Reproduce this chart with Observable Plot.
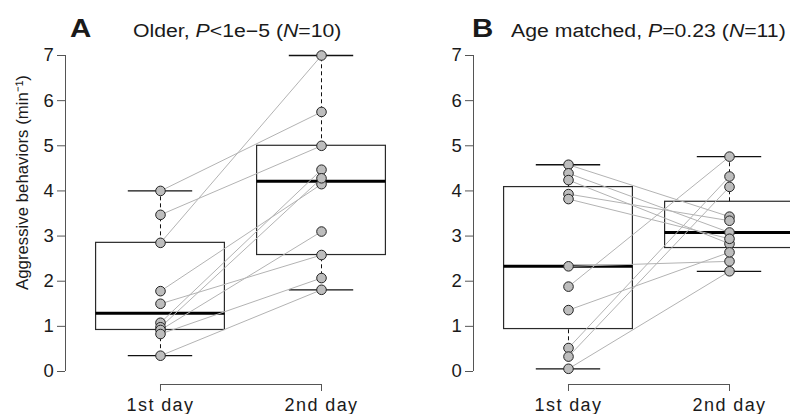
<!DOCTYPE html>
<html><head><meta charset="utf-8">
<script src="https://cdn.jsdelivr.net/npm/d3@7"></script>
<script src="https://cdn.jsdelivr.net/npm/@observablehq/plot@0.6"></script>
<style>
body{margin:0;background:#fff;width:790px;height:414px;overflow:hidden;position:relative;font-family:"Liberation Sans",Arial,sans-serif;color:#1a1a1a;}
.panel{position:absolute;top:0;width:416px;height:414px;}
.title{position:absolute;white-space:nowrap;line-height:1;transform-origin:0 0;transform:scaleX(1.18);}
.letter{font-weight:bold;font-size:25px;top:16px;}
.sub{font-size:18px;top:22px;}
.plotbox{position:absolute;left:0;top:45px;width:416px;}
g[aria-label="x-axis tick label"] text{letter-spacing:1.4px;}
g[aria-label="y-axis tick label"] text{letter-spacing:0.6px;}
</style></head><body>
<div id="A" class="panel" style="left:0">
  <div class="title letter" style="left:70px">A</div>
  <div class="title sub" style="left:133px">Older, <i>P</i>&lt;1e−5 (<i>N</i>=10)</div>
  <div class="plotbox"></div>
</div>
<div id="B" class="panel" style="left:408px">
  <div class="title letter" style="left:64px">B</div>
  <div class="title sub" style="left:103px">Age matched, <i>P</i>=0.23 (<i>N</i>=11)</div>
  <div class="plotbox"></div>
</div>
<script>
// ---- data (aggressive behaviors per minute), paired by index ----
const days = ["1st day", "2nd day"];
const yTicks = [0, 1, 2, 3, 4, 5, 6, 7];
const yLabel = "Aggressive behaviors (min⁻¹)";
const olderDay1 = [4.00, 3.47, 2.85, 1.78, 1.50, 1.08, 0.98, 0.92, 0.83, 0.35];
const olderDay2 = [5.75, 5.00, 7.00, 4.15, 2.58, 4.47, 4.28, 3.10, 2.07, 1.81];
const matchedDay1 = [4.58, 4.39, 4.24, 3.93, 3.82, 2.33, 1.88, 1.36, 0.52, 0.33, 0.06];
const matchedDay2 = [3.43, 3.08, 2.83, 3.34, 2.94, 2.44, 4.76, 2.64, 4.32, 4.09, 2.22];

// Tukey five-number summary (as R's boxplot)
function fivenum(v) {
  const s = v.slice().sort((a, b) => a - b), n = s.length;
  const n4 = Math.floor((n + 3) / 2) / 2;
  return [1, n4, (n + 1) / 2, n + 1 - n4, n].map(d => 0.5 * (s[Math.floor(d) - 1] + s[Math.ceil(d) - 1]));
}
function stats(v, x) {
  const [, q1, md, q3] = fivenum(v);
  const iqr = q3 - q1;
  return {x, q1, md, q3,
    hi: d3.max(v.filter(d => d <= q3 + 1.5 * iqr)),
    lo: d3.min(v.filter(d => d >= q1 - 1.5 * iqr))};
}

const xDomain = [0.41, 2.59];
const ink = "#1a1a1a", axisInk = "#555";

function panel(d1, d2, withLabel) {
  const boxes = [stats(d1, 1), stats(d2, 2)];
  const pairs = d1.map((v, i) => ({a: v, b: d2[i]}));
  const pts = [...d1.map(v => ({x: 1, y: v})), ...d2.map(v => ({x: 2, y: v}))];
  const W = 0.4, C = 0.2;
  return Plot.plot({
    width: 416, height: 369,
    marginLeft: 65, marginRight: 0, marginTop: 10, marginBottom: 43,
    x: {domain: xDomain},
    y: {domain: [0, 7]},
    style: {fontFamily: "'Liberation Sans', Arial, sans-serif", fontSize: "18px", color: ink, background: "transparent", overflow: "visible"},
    marks: [
      Plot.ruleX([xDomain[0]], {y1: 0, y2: 7, stroke: axisInk}),
      Plot.axisY({ticks: yTicks, tickFormat: d3.format("d"), tickSize: 8, tickPadding: 3, label: null, fontSize: 18.5, stroke: axisInk}),
      Plot.ruleY([0], {x1: 1, x2: 2, dy: 13, stroke: axisInk}),
      Plot.axisX({ticks: [1, 2], tickFormat: d => days[d - 1], tickSize: 7, tickPadding: 7, dy: 13, label: null, fontSize: 18, stroke: axisInk}),
      withLabel ? Plot.text([yLabel], {frameAnchor: "left", textAnchor: "middle", rotate: -90, dx: -43, dy: -31, fontSize: 16.8, fill: ink}) : null,
      Plot.rect(boxes, {x1: d => d.x - W, x2: d => d.x + W, y1: "q1", y2: "q3", fill: "none", stroke: "#2a2a2a", strokeWidth: 1.2}),
      Plot.ruleX(boxes, {x: "x", y1: "q3", y2: "hi", stroke: "#111", strokeDasharray: "4,3"}),
      Plot.ruleX(boxes, {x: "x", y1: "lo", y2: "q1", stroke: "#111", strokeDasharray: "4,3"}),
      Plot.ruleY(boxes, {y: "hi", x1: d => d.x - C, x2: d => d.x + C, stroke: "#111", strokeWidth: 1.3}),
      Plot.ruleY(boxes, {y: "lo", x1: d => d.x - C, x2: d => d.x + C, stroke: "#111", strokeWidth: 1.3}),
      Plot.ruleY(boxes, {y: "md", x1: d => d.x - W, x2: d => d.x + W, stroke: "#000", strokeWidth: 3}),
      Plot.link(pairs, {x1: () => 1, y1: "a", x2: () => 2, y2: "b", stroke: "#b3b3b3", strokeWidth: 1}),
      Plot.dot(pts, {x: "x", y: "y", r: 4.8, fill: "#bdbdbd", stroke: "#222", strokeWidth: 1})
    ]
  });
}

document.querySelector("#A .plotbox").append(panel(olderDay1, olderDay2, true));
document.querySelector("#B .plotbox").append(panel(matchedDay1, matchedDay2, false));
</script>
</body></html>
